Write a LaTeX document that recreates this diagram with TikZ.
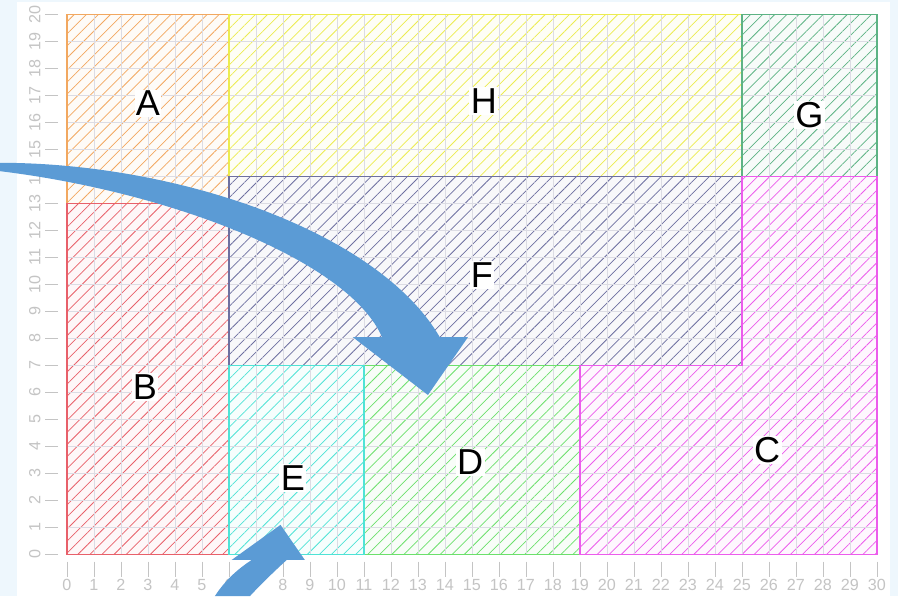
\documentclass[tikz,border=0pt]{standalone}
\usepackage{fontspec}
\setmainfont{Liberation Sans}
\usepackage{tikz}
\usetikzlibrary{patterns.meta}
\definecolor{panelbg}{HTML}{EEF7FD}
\definecolor{gridc}{HTML}{DCDCE4}
\definecolor{tickc}{HTML}{C4C4C4}
\definecolor{arrowc}{HTML}{5B9BD5}
\definecolor{areaA}{HTML}{F2A860}
\definecolor{areaB}{HTML}{E8606A}
\definecolor{areaC}{HTML}{EC5CEC}
\definecolor{areaD}{HTML}{6CE06C}
\definecolor{areaE}{HTML}{4FE3D6}
\definecolor{areaF}{HTML}{6E70A0}
\definecolor{areaG}{HTML}{5DB384}
\definecolor{areaH}{HTML}{ECEC50}

\tikzset{
  hatch/.style={pattern={Lines[angle=45,distance=9pt,line width=0.8pt]}, pattern color=#1},
  rim/.style={draw=#1, line width=1.2pt},
  letter/.style={fill=white, inner sep=1.5pt, font=\fontsize{38}{40}\selectfont},
  ticklabel/.style={text=tickc, font=\fontsize{17}{19}\selectfont}
}

\begin{document}
\begin{tikzpicture}
    \useasboundingbox (-2.48,-1.545) rectangle (30.78,20.53);
    \fill[panelbg] (-2.48,-1.545) rectangle (30.78,20.53);
    \fill[white] (-1.85,-1.545) rectangle (30.48,20.46);
    % areas
    \foreach \col/\xa/\ya/\xb/\yb in {areaA/0/13/6/20, areaB/0/0/6/13, areaH/6/14/25/20, areaG/25/14/30/20, areaF/6/7/25/14, areaD/11/0/19/7, areaE/6/0/11/7} {
      \fill[\col!5] (\xa,\ya) rectangle (\xb,\yb);
      \fill[hatch=\col] (\xa,\ya) rectangle (\xb,\yb);
    }
    \fill[areaC!5] (19,0) -- (30,0) -- (30,14) -- (25,14) -- (25,7) -- (19,7) -- cycle;
    \fill[hatch=areaC] (19,0) -- (30,0) -- (30,14) -- (25,14) -- (25,7) -- (19,7) -- cycle;
    \draw[step=1cm, gridc, line width=0.9pt] (0,0) grid (30,20);
    \foreach \col/\xa/\ya/\xb/\yb in {areaA/0/13/6/20, areaB/0/0/6/13, areaH/6/14/25/20, areaG/25/14/30/20, areaF/6/7/25/14, areaD/11/0/19/7, areaE/6/0/11/7}
      \draw[rim=\col] (\xa,\ya) rectangle (\xb,\yb);
    \draw[rim=areaC] (19,0) -- (30,0) -- (30,14) -- (25,14) -- (25,7) -- (19,7) -- cycle;
    % axes
    \foreach \i in {0,...,30} {
      \draw[tickc, line width=0.9pt] (\i,-0.27) -- (\i,-0.83);
      \node[ticklabel] (xl\i) at (\i,-1.14) {\i};
    }
    \foreach \j in {0,...,20} {
      \draw[tickc, line width=0.9pt] (-0.33,\j) -- (-0.81,\j);
      \node[ticklabel, rotate=90] (yl\j) at (-1.19,\j) {\j};
    }
    % labels
    \node[letter] (lblA) at (3.0,16.7) {A};
    \node[letter] (lblH) at (15.44,16.8) {H};
    \node[letter] (lblG) at (27.5,16.27) {G};
    \node[letter] (lblF) at (15.37,10.34) {F};
    \node[letter] (lblB) at (2.89,6.2) {B};
    \node[letter] (lblE) at (8.37,2.83) {E};
    \node[letter] (lblD) at (14.93,3.4) {D};
    \node[letter] (lblC) at (25.93,3.86) {C};
    % arrows
    \fill[arrowc] (-2.48,14.50) .. controls (4,14.5) and (11.5,12) .. (13.81,8.04)
      -- (14.85,8.04) -- (13.37,5.90) -- (10.59,8.04) -- (11.67,8.04)
      .. controls (10.5,10.8) and (4,13.4) .. (-2.48,14.19) -- cycle;
    \fill[arrowc] (5.48,-1.545) .. controls (5.9,-0.9) and (6.4,-0.5) .. (6.84,-0.21)
      -- (6.10,-0.21) -- (7.91,1.09) -- (8.81,-0.21) -- (8.14,-0.21)
      .. controls (7.6,-0.7) and (7.1,-1.2) .. (6.78,-1.545) -- cycle;
\end{tikzpicture}
\end{document}
